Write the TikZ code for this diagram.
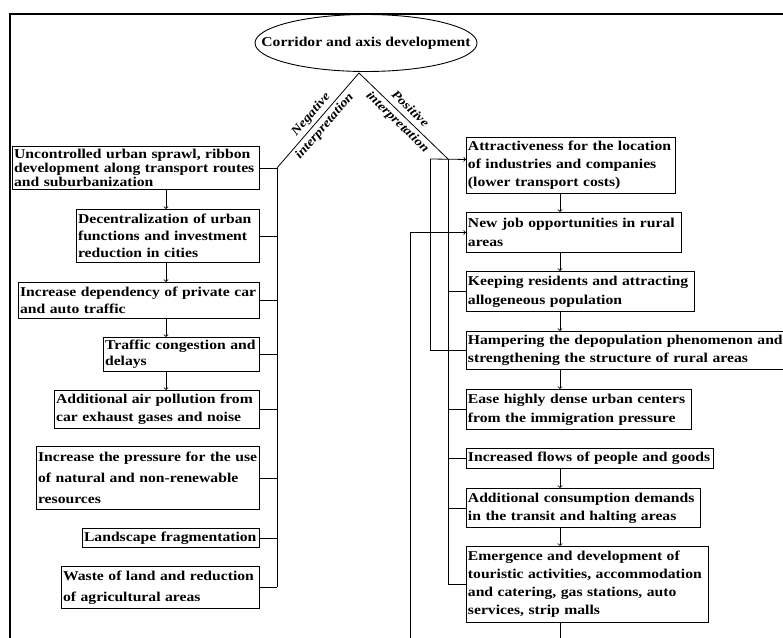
\documentclass[tikz,border=0pt]{standalone}
\usepackage{fontspec}
\setmainfont{Liberation Serif}[FakeStretch=1.16]
\usetikzlibrary{shapes.geometric}

\tikzset{
  box/.style={draw, line width=0.9pt, align=left, inner xsep=1.5pt, inner ysep=0pt,
    font=\bfseries\fontsize{13.5}{#1}\selectfont},
  box/.default=18,
  neg/.style={box=#1, anchor=north east},
  neg/.default=18,
  pos/.style={box=#1, anchor=north west},
  pos/.default=18,
  core/.style={ellipse, draw, line width=0.9pt, minimum width=222pt, minimum height=57pt,
    inner sep=0pt, font=\bfseries\fontsize{13.5}{15}\selectfont},
  lab/.style={sloped, align=center, inner sep=0pt, font=\bfseries\itshape\fontsize{12.5}{18}\selectfont},
  every path/.style={line width=0.8pt}
}

\begin{document}
\begin{tikzpicture}[x=1pt,y=-1pt]
  \useasboundingbox (0,0) rectangle (783,637);
  \draw[line width=2.5pt] (10,640) -- (10,14) -- (786,14);

  \node[core] (0) at (366,43) {\makebox[0pt]{Corridor and axis development}};
  \coordinate (apex) at (359,73);
  \coordinate (ls) at (166,0);
  \coordinate (nx) at (277,0);
  \coordinate (rs) at (560,0);
  \coordinate (fa) at (430,159);
  \coordinate (fb) at (448,159);
  \coordinate (fc) at (410,640);

  \node[neg=14, text width=244pt, minimum height=43pt] (n1) at (260,146) {Uncontrolled urban sprawl, ribbon\\development along transport routes\\and suburbanization};
  \node[neg=17, text width=180pt, minimum height=53pt] (n2) at (260,209) {Decentralization of urban\\functions and investment\\reduction in cities};
  \node[neg=17, text width=238pt, minimum height=36pt] (n3) at (260,282) {Increase dependency of private car\\and auto traffic};
  \node[neg=16, text width=153pt, minimum height=34pt] (n4) at (260,337) {Traffic congestion and\\delays};
  \node[neg=18, text width=202pt, minimum height=38pt] (n5) at (260,390) {Additional air pollution from\\car exhaust gases and noise};
  \node[neg=21, text width=220pt, minimum height=63pt] (n6) at (260,446) {Increase the pressure for the use\\of natural and non-renewable\\resources};
  \node[neg, text width=174pt, minimum height=19pt] (n7) at (260,528) {Landscape fragmentation};
  \node[neg=21, text width=195pt, minimum height=42pt] (n8) at (260,566) {Waste of land and reduction\\of agricultural areas};

  \node[pos=18, text width=206pt, minimum height=56pt] (p1) at (466,137) {Attractiveness for the location\\of industries and companies\\(lower transport costs)};
  \node[pos=19, text width=212pt, minimum height=40pt] (p2) at (466,212) {New job opportunities in rural\\areas};
  \node[pos=19, text width=225pt, minimum height=40pt] (p3) at (466,271) {Keeping residents and attracting\\allogeneous population};
  \node[pos=18, text width=331pt, minimum height=38pt] (p4) at (466,331) {Hampering the depopulation phenomenon and\\strengthening the structure of rural areas};
  \node[pos=19, text width=222pt, minimum height=40pt] (p5) at (466,389) {Ease highly dense urban centers\\from the immigration pressure};
  \node[pos, text width=244pt, minimum height=20pt] (p6) at (466,448) {Increased flows of people and goods};
  \node[pos=18, text width=231pt, minimum height=39pt] (p7) at (466,488) {Additional consumption demands\\in the transit and halting areas};
  \node[pos=18, text width=239pt, minimum height=76pt] (p8) at (466,546) {Emergence and development of\\touristic activities, accommodation\\and catering, gas stations, auto\\services, strip malls};

  \coordinate (nb) at (n1.east -| nx);
  \draw (nb) -- node[lab] {Negative\\interpretation} (apex);
  \draw (nb) -- (nb |- n8.east);
  \draw (n1.east) -- (nb);
  \draw (n2.east) -- (n2.east -| nx);
  \draw (n3.east) -- (n3.east -| nx);
  \draw (n4.east) -- (n4.east -| nx);
  \draw (n5.east) -- (n5.east -| nx);
  \draw (n6.east) -- (n6.east -| nx);
  \draw (n7.east) -- (n7.east -| nx);
  \draw (n8.east) -- (n8.east -| nx);

  \draw[->] (n1.south -| ls) -- (n2.north -| ls);
  \draw[->] (n2.south -| ls) -- (n3.north -| ls);
  \draw[->] (n3.south -| ls) -- (n4.north -| ls);
  \draw[->] (n4.south -| ls) -- (n5.north -| ls);

  \draw (apex) -- node[lab] {Positive\\interpretation} (fb);
  \draw[->] (fa) -- ([yshift=6pt]p1.west);
  \draw (fa) |- (p4.west);
  \draw (fb) -- (fb |- p8.west);
  \draw (fb |- p3.west) -- (p3.west);
  \draw (fb |- p5.west) -- (p5.west);
  \draw (fb |- p6.west) -- (p6.west);
  \draw (fb |- p7.west) -- (p7.west);
  \draw (fb |- p8.west) -- (p8.west);
  \draw[->] (fc) |- (p2.west);

  \draw[->] (p1.south -| rs) -- (p2.north -| rs);
  \draw[->] (p2.south -| rs) -- (p3.north -| rs);
  \draw[->] (p3.south -| rs) -- (p4.north -| rs);
  \draw[->] (p4.south -| rs) -- (p5.north -| rs);
  \draw[->] (p6.south -| rs) -- (p7.north -| rs);
  \draw[->] (p7.south -| rs) -- (p8.north -| rs);
  \draw (p8.south -| rs) -- (fc -| rs);
\end{tikzpicture}
\end{document}
